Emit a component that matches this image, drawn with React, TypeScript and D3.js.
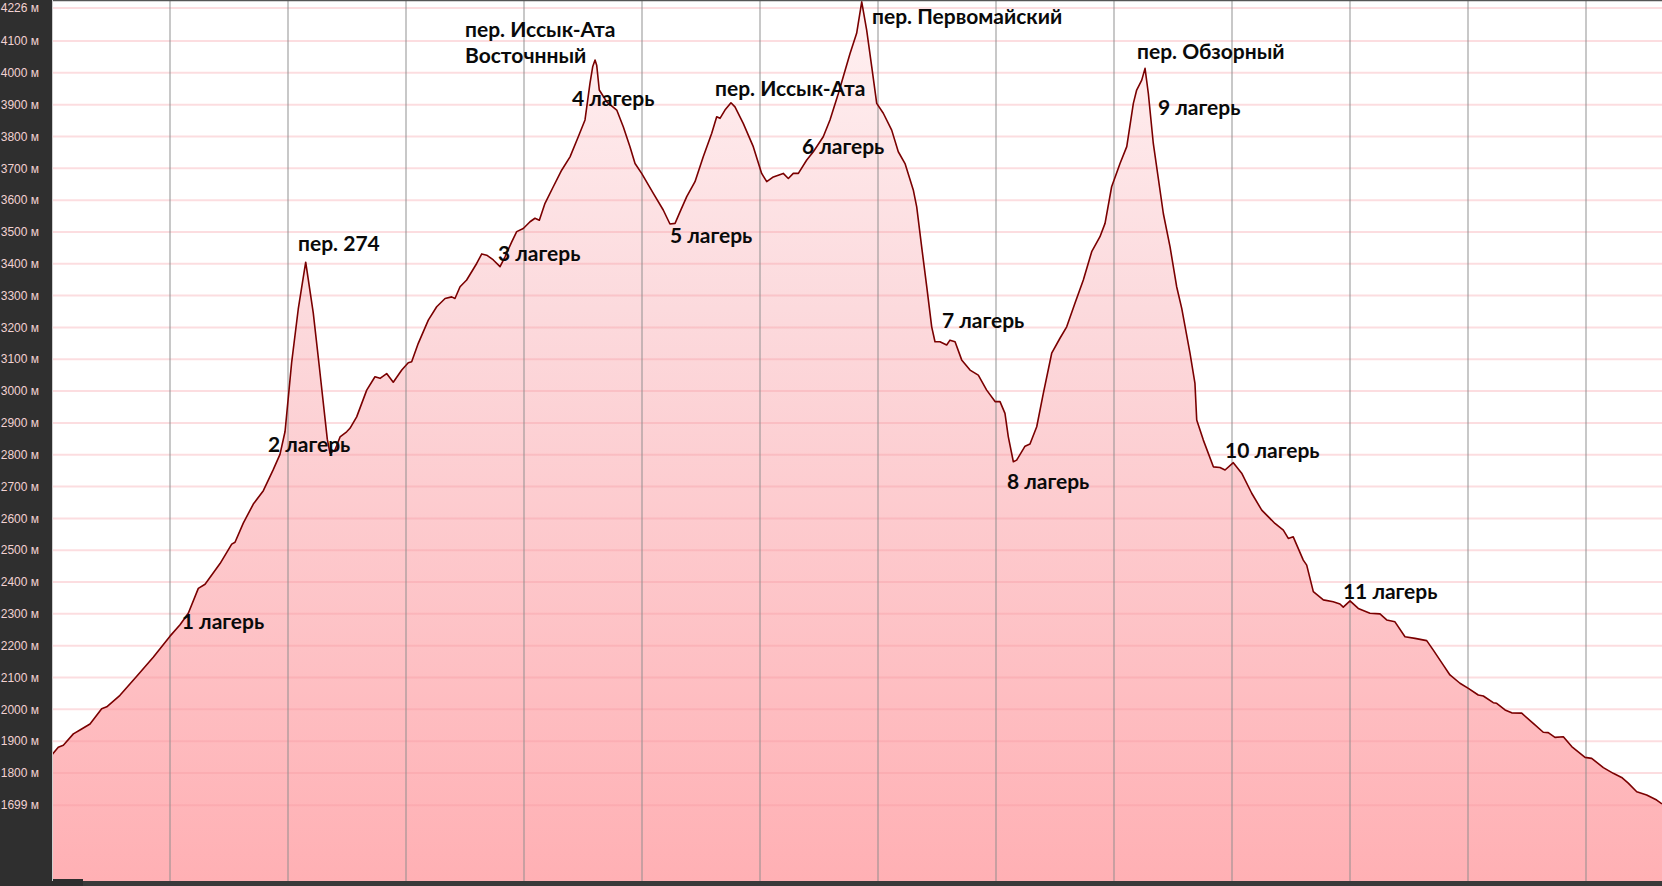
import * as d3 from "d3"

// distance along the route (km) and elevation (m)
const distance = [
  0, 0.53, 0.96, 1.81, 2.37, 3.22, 4.21, 4.64, 5.76, 7.18, 8.58, 10.0, 10.85, 11.55, 12.4, 12.97,
  14.24, 15.23, 15.51, 16.21, 17.06, 17.91, 18.75, 19.32, 19.75, 20.31, 20.87, 21.5, 22.14, 22.65,
  23.33, 23.56, 23.98, 24.41, 24.97, 25.25, 25.82, 26.67, 27.37, 27.8, 28.36, 28.92, 29.64, 30.19,
  30.48, 31.04, 31.89, 32.6, 33.31, 33.87, 34.15, 34.58, 35.14, 35.99, 36.42, 36.84, 37.4, 37.97,
  38.39, 38.96, 39.38, 39.94, 40.51, 40.93, 41.3, 41.78, 42.48, 43.19, 43.9, 44.6, 45.17, 45.59,
  45.82, 46.02, 46.16, 46.38, 47.01, 47.86, 48.42, 48.98, 49.41, 49.97, 50.96, 51.8, 52.37, 52.8,
  53.22, 53.79, 54.49, 55.19, 55.91, 56.33, 56.61, 57.03, 57.54, 57.88, 58.58, 59.43, 60.14, 60.57,
  61.13, 61.97, 62.4, 62.82, 63.25, 63.96, 64.52, 65.36, 65.93, 66.64, 67.63, 68.19, 68.62, 69.04,
  69.47, 69.89, 70.45, 71.16, 71.72, 72.29, 72.99, 73.28, 73.7, 74.13, 74.55, 74.83, 75.25, 75.82,
  76.1, 76.53, 77.09, 77.8, 78.5, 79.21, 79.92, 80.34, 80.76, 81.04, 81.47, 81.75, 82.46, 82.88,
  83.45, 84.01, 84.72, 85.42, 85.99, 86.69, 87.4, 88.11, 88.81, 89.24, 89.8, 90.51, 91.08, 91.64,
  91.92, 92.35, 92.63, 92.91, 93.33, 94.18, 94.75, 95.31, 95.74, 96.44, 96.86, 97.01, 97.57, 98.42,
  98.98, 99.41, 100.11, 100.82, 101.67, 102.52, 103.64, 104.35, 104.77, 105.19, 106.04, 106.33,
  106.89, 107.74, 108.58, 109.15, 109.43, 110.0, 110.7, 111.69, 112.54, 113.11, 113.81, 114.66,
  115.51, 116.5, 117.06, 117.91, 118.47, 119.32, 120.03, 120.87, 121.3, 122.14, 122.43, 123.14,
  123.7, 124.55, 125.53, 126.38, 126.8, 127.37, 128.08, 128.79, 129.92, 130.48, 131.47, 132.31,
  133.02, 133.58, 134.3, 135.14, 135.99, 136.44,
]

const elevation = [
  1857, 1881, 1887, 1923, 1935, 1954, 2002, 2008, 2044, 2104, 2164, 2230, 2266, 2302, 2380, 2393,
  2458, 2519, 2525, 2585, 2645, 2687, 2753, 2801, 2873, 3090, 3258, 3405, 3246, 3078,
  2849, 2805, 2815, 2856, 2872, 2883, 2919, 3003, 3045, 3040, 3055, 3028, 3066, 3089,
  3092, 3150, 3223, 3265, 3291, 3296, 3291, 3328, 3349, 3401, 3431, 3427, 3412, 3391,
  3422, 3469, 3501, 3511, 3532, 3543, 3537, 3590, 3642, 3694, 3736, 3799, 3852, 3967,
  4019, 4040, 4024, 3946, 3909, 3883, 3830, 3768, 3715, 3684, 3621, 3569, 3525, 3527,
  3563, 3611, 3658, 3736, 3810, 3862, 3857, 3883, 3906, 3893, 3841, 3768, 3684, 3658,
  3673, 3684, 3668, 3684, 3684, 3726, 3752, 3799, 3852, 3935, 4061, 4124, 4223, 4134,
  4019, 3904, 3873, 3820, 3752, 3715, 3632, 3579, 3453, 3328, 3202, 3155, 3155, 3145,
  3160, 3155, 3098, 3066, 3050, 3003, 2967, 2967, 2930, 2857, 2778, 2783, 2827, 2834,
  2888, 2993, 3119, 3166, 3202, 3276, 3349, 3438, 3485, 3527, 3642, 3715, 3768, 3904,
  3946, 3977, 4014, 3935, 3778, 3558, 3453, 3328, 3260, 3119, 3024, 2909, 2846, 2762,
  2760, 2752, 2775, 2742, 2679, 2626, 2584, 2563, 2537, 2542, 2469, 2453,
  2370, 2344, 2338, 2331, 2321, 2341, 2317, 2302, 2300, 2281, 2275, 2228,
  2223, 2216, 2186, 2139, 2108, 2082, 2066, 2045, 2042, 2021, 2019, 1998,
  1989, 1988, 1956, 1928, 1927, 1912, 1914, 1883, 1849, 1846, 1817, 1799,
  1786, 1768, 1741, 1731, 1715, 1703,
]

const yTicks = [1699, 1800, 1900, 2000, 2100, 2200, 2300, 2400, 2500, 2600, 2700, 2800, 2900,
  3000, 3100, 3200, 3300, 3400, 3500, 3600, 3700, 3800, 3900, 4000, 4100, 4226]
const xGrid = [10, 20, 30, 40, 50, 60, 70, 80, 90, 100, 110, 120, 130]

// annotation text with the point (km, m) where its baseline starts
const labelText = [
  "1 лагерь", "2 лагерь", "пер. 274", "3 лагерь", "пер. Иссык-Ата", "Восточнный", "4 лагерь",
  "пер. Иссык-Ата", "5 лагерь", "6 лагерь", "пер. Первомайский", "7 лагерь", "8 лагерь",
  "пер. Обзорный", "9 лагерь", "10 лагерь", "11 лагерь",
]
const labelKm = [11.0, 18.3, 20.85, 37.8, 35.0, 35.0, 44.07, 56.19, 52.37, 63.56, 69.49, 75.42,
  80.93, 91.95, 93.73, 99.41, 109.4]
const labelM = [2252, 2808, 3440, 3409, 4112, 4031, 3896, 3927, 3465, 3745, 4153, 3198, 2692,
  4043, 3867, 2790, 2347]

const W = 1662
const H = 886
const left = 52
const bottom = 881

export default function App() {
  const x = d3.scaleLinear().domain([0, 136.44]).range([left, W])
  const y = d3.scaleLinear().domain([1800, 4100]).range([773, 41])
  // the top label sits a few px lower than its true value
  const tickY = (v: number) => Math.max(y(v), 8)

  const pts = distance.map((d, i) => [d, elevation[i]] as [number, number])
  const area = d3
    .area<[number, number]>()
    .x((d) => x(d[0]))
    .y0(bottom)
    .y1((d) => y(d[1]))
  const line = d3
    .line<[number, number]>()
    .x((d) => x(d[0]))
    .y((d) => y(d[1]))

  return (
    <svg width={W} height={H} style={{ display: "block" }}>
      <style>{`body{margin:0}`}</style>
      <defs>
        <linearGradient id="fill" gradientUnits="userSpaceOnUse" x1="0" y1="0" x2="0" y2={bottom}>
          <stop offset="0" stopColor="#fff1f2" />
          <stop offset="0.35" stopColor="#fcdadd" />
          <stop offset="1" stopColor="#ffb0b4" />
        </linearGradient>
      </defs>
      <rect x={0} y={0} width={W} height={H} fill="#ffffff" />
      <path d={area(pts) || ""} fill="url(#fill)" />
      {yTicks.map((t) => (
        <line key={t} x1={left} x2={W} y1={tickY(t)} y2={tickY(t)}
          stroke="rgba(245,150,160,0.32)" strokeWidth={2} />
      ))}
      {xGrid.map((g) => (
        <line key={g} x1={x(g)} x2={x(g)} y1={0} y2={bottom}
          stroke="rgba(140,140,140,0.48)" strokeWidth={2} />
      ))}
      <path d={line(pts) || ""} fill="none" stroke="#7a0000" strokeWidth={1.6} strokeLinejoin="round" />
      <line x1={left} x2={W} y1={0.5} y2={0.5} stroke="#555" strokeWidth={1.5} />
      <rect x={left} y={bottom} width={W - left} height={H - bottom} fill="#3a3a3a" />
      <rect x={left} y={bottom - 2} width={31} height={H - bottom + 2} fill="#2e2e2e" />
      <rect x={0} y={0} width={left} height={H} fill="#2f2f2f" />
      <line x1={left + 0.5} x2={left + 0.5} y1={0} y2={bottom} stroke="#cfcfcf" />
      {yTicks.map((t) => (
        <text key={t} x={39} y={tickY(t)} dy="0.35em" textAnchor="end"
          fontFamily="'Liberation Sans', Arial, sans-serif" fontSize={12} fill="#f2d2d2">
          {t} м
        </text>
      ))}
      {labelText.map((s, i) => (
        <text key={i} x={x(labelKm[i])} y={y(labelM[i])} fontFamily="Lato, 'Noto Sans', sans-serif"
          fontWeight="bold" fontSize={21} fill="#0a0a0a">
          {s}
        </text>
      ))}
    </svg>
  )
}
